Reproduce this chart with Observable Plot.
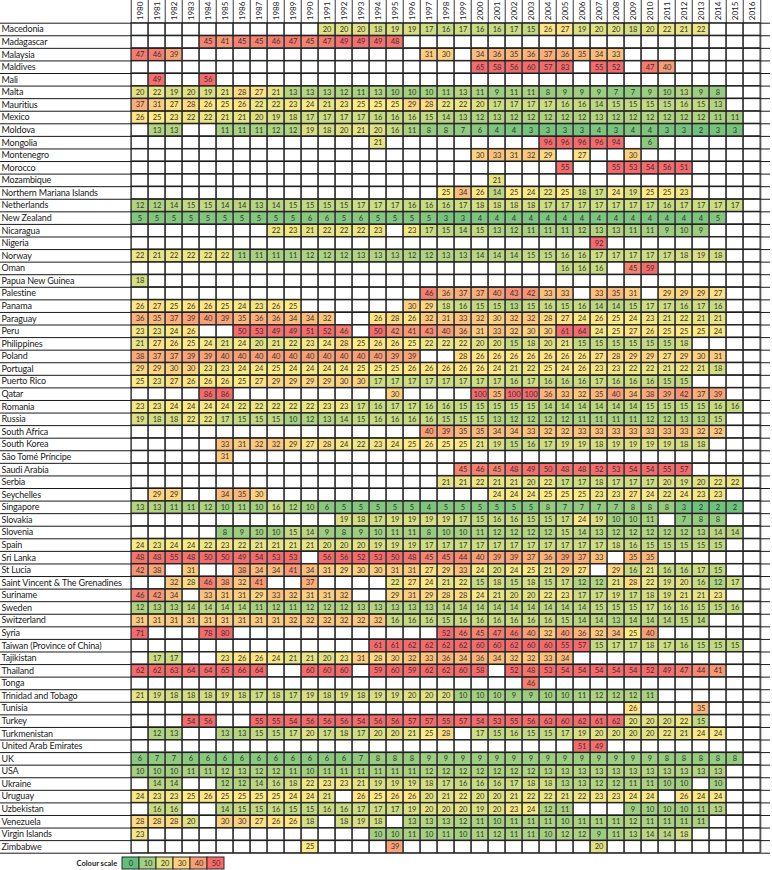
<!DOCTYPE html>
<html><head><meta charset="utf-8">
<script src="https://cdn.jsdelivr.net/npm/d3@7"></script>
<script src="https://cdn.jsdelivr.net/npm/@observablehq/plot@0.6"></script>
<style>
body{margin:0;background:#fff;}
#chart svg{display:block;}
</style>
</head><body><div id="chart"></div>
<script>
const _ = null;
const years = ["1980","1981","1982","1983","1984","1985","1986","1987","1988","1989",
"1990","1991","1992","1993","1994","1995","1996","1997","1998","1999",
"2000","2001","2002","2003","2004","2005","2006","2007","2008","2009",
"2010","2011","2012","2013","2014","2015","2016"];
const countries = ["Macedonia","Madagascar","Malaysia","Maldives","Mali","Malta","Mauritius","Mexico","Moldova","Mongolia",
"Montenegro","Morocco","Mozambique","Northern Mariana Islands","Netherlands","New Zealand","Nicaragua","Nigeria","Norway","Oman",
"Papua New Guinea","Palestine","Panama","Paraguay","Peru","Philippines","Poland","Portugal","Puerto Rico","Qatar",
"Romania","Russia","South Africa","South Korea","São Tomé Príncipe","Saudi Arabia","Serbia","Seychelles","Singapore","Slovakia",
"Slovenia","Spain","Sri Lanka","St Lucia","Saint Vincent & The Grenadines","Suriname","Sweden","Switzerland","Syria","Taiwan (Province of China)",
"Tajikistan","Thailand","Tonga","Trinidad and Tobago","Tunisia","Turkey","Turkmenistan","United Arab Emirates","UK","USA",
"Ukraine","Uruguay","Uzbekistan","Venezuela","Virgin Islands","Zimbabwe"];
// values per country, 1980..2016 (null = no data)
const values = [
/* Macedonia */ [_,_,_,_,_,_,_,_,_,_, _,20,20,20,18,19,19,17,16,17, 16,16,17,15,26,27,19,20,20,18, 20,22,21,22,_,_,_],
/* Madagascar */ [_,_,_,_,45,41,45,45,46,47, 45,47,49,49,49,48,_,_,_,_, _,_,_,_,_,_,_,_,_,_, _,_,_,_,_,_,_],
/* Malaysia */ [47,46,39,_,_,_,_,_,_,_, _,_,_,_,_,_,_,31,30,_, 34,36,35,36,37,36,35,34,33,_, _,_,_,_,_,_,_],
/* Maldives */ [_,_,_,_,_,_,_,_,_,_, _,_,_,_,_,_,_,_,_,_, 65,58,56,60,57,83,_,55,52,_, 47,40,_,_,_,_,_],
/* Mali */ [_,49,_,_,56,_,_,_,_,_, _,_,_,_,_,_,_,_,_,_, _,_,_,_,_,_,_,_,_,_, _,_,_,_,_,_,_],
/* Malta */ [20,22,19,20,19,21,28,27,21,13, 13,13,12,11,13,10,10,10,11,13, 11,9,11,11,8,9,9,9,7,7, 9,10,13,9,8,_,_],
/* Mauritius */ [37,31,27,28,26,25,26,22,22,23, 24,21,23,25,25,25,29,28,22,22, 20,17,17,17,17,16,16,14,15,15, 15,15,16,15,13,_,_],
/* Mexico */ [26,25,23,22,22,21,21,20,19,18, 17,17,17,17,16,16,16,15,14,13, 12,13,12,12,12,12,12,13,12,12, 12,12,12,12,11,11,_],
/* Moldova */ [_,13,13,_,_,11,11,11,12,12, 19,18,20,21,20,16,11,8,8,7, 6,4,4,3,3,3,3,4,3,4, 4,3,3,2,3,3,_],
/* Mongolia */ [_,_,_,_,_,_,_,_,_,_, _,_,_,_,21,_,_,_,_,_, _,_,_,_,96,96,96,96,94,_, 6,_,_,_,_,_,_],
/* Montenegro */ [_,_,_,_,_,_,_,_,_,_, _,_,_,_,_,_,_,_,_,_, 30,33,31,32,29,_,27,_,_,30, _,_,_,_,_,_,_],
/* Morocco */ [_,_,_,_,_,_,_,_,_,_, _,_,_,_,_,_,_,_,_,_, _,_,_,_,_,55,_,_,55,53, 54,56,51,_,_,_,_],
/* Mozambique */ [_,_,_,_,_,_,_,_,_,_, _,_,_,_,_,_,_,_,_,_, _,21,_,_,_,_,_,_,_,_, _,_,_,_,_,_,_],
/* N Mariana */ [_,_,_,_,_,_,_,_,_,_, _,_,_,_,_,_,_,_,25,34, 26,14,25,24,22,25,18,17,24,19, 25,25,23,_,_,_,_],
/* Netherlands */ [12,12,14,15,15,14,14,13,14,15, 15,15,15,17,17,17,16,16,16,17, 18,18,18,18,17,17,17,17,17,17, 17,16,17,17,17,17,_],
/* New Zealand */ [5,5,5,5,5,5,5,5,5,5, 6,6,5,6,5,5,5,5,3,3, 4,4,4,4,4,4,4,4,4,4, 4,4,4,4,5,_,_],
/* Nicaragua */ [_,_,_,_,_,_,_,_,22,23, 21,22,22,22,23,_,23,17,15,14, 15,13,12,11,11,11,12,13,13,11, 11,9,10,9,_,_,_],
/* Nigeria */ [_,_,_,_,_,_,_,_,_,_, _,_,_,_,_,_,_,_,_,_, _,_,_,_,_,_,_,92,_,_, _,_,_,_,_,_,_],
/* Norway */ [22,21,22,22,22,22,11,11,11,11, 12,12,12,13,13,13,12,12,13,13, 14,14,14,15,15,16,16,17,17,17, 17,17,18,19,18,_,_],
/* Oman */ [_,_,_,_,_,_,_,_,_,_, _,_,_,_,_,_,_,_,_,_, _,_,_,_,_,16,16,16,_,45, 59,_,_,_,_,_,_],
/* PNG */ [18,_,_,_,_,_,_,_,_,_, _,_,_,_,_,_,_,_,_,_, _,_,_,_,_,_,_,_,_,_, _,_,_,_,_,_,_],
/* Palestine */ [_,_,_,_,_,_,_,_,_,_, _,_,_,_,_,_,_,46,36,37, 37,40,43,42,33,33,_,33,35,31, _,29,29,29,27,_,_],
/* Panama */ [26,27,25,26,26,25,24,23,26,25, _,_,_,_,_,_,30,29,18,16, 15,15,13,15,16,15,16,14,14,15, 17,17,16,17,16,_,_],
/* Paraguay */ [36,35,37,39,40,39,35,36,36,34, 34,32,_,_,26,28,26,32,31,33, 32,30,32,32,28,27,24,26,25,24, 23,21,22,21,21,_,_],
/* Peru */ [23,23,24,26,_,_,50,53,49,49, 51,52,46,_,50,42,41,43,40,36, 31,33,32,30,30,61,64,24,25,27, 26,25,25,25,24,_,_],
/* Philippines */ [21,27,26,25,24,21,24,20,21,22, 23,24,28,25,26,26,25,22,22,22, 20,20,15,18,20,21,15,15,15,15, 15,15,18,_,_,_,_],
/* Poland */ [38,37,37,39,39,40,40,40,40,40, 40,40,40,40,40,39,39,_,_,28, 26,26,26,26,26,26,26,27,28,29, 29,27,29,30,31,_,_],
/* Portugal */ [29,29,30,30,23,23,24,24,25,24, 24,24,24,25,25,25,26,26,26,26, 26,24,21,22,25,24,26,23,23,22, 22,21,22,21,18,_,_],
/* Puerto Rico */ [25,23,27,26,26,26,25,27,29,29, 29,29,30,30,17,17,17,17,17,17, 17,17,16,17,16,16,16,17,16,16, 16,15,15,_,_,_,_],
/* Qatar */ [_,_,_,_,86,86,_,_,_,_, _,_,_,_,_,30,_,_,_,_, 100,35,100,100,36,33,32,35,40,34, 38,39,42,37,39,_,_],
/* Romania */ [23,23,24,24,24,24,22,22,22,22, 22,23,23,17,16,17,17,16,16,15, 15,15,15,15,14,14,14,14,14,14, 15,15,15,15,16,16,_],
/* Russia */ [19,18,18,22,22,17,15,15,15,10, 12,13,14,15,16,16,16,16,15,15, 15,13,12,12,12,12,11,11,11,11, 12,12,13,13,15,_,_],
/* South Africa */ [_,_,_,_,_,_,_,_,_,_, _,_,_,_,_,_,_,40,39,35, 35,34,34,33,32,32,33,33,33,33, 33,33,33,32,32,_,_],
/* South Korea */ [_,_,_,_,_,33,31,32,32,29, 27,28,24,22,23,24,25,26,25,25, 21,19,15,16,17,19,19,18,19,19, 19,19,18,18,_,_,_],
/* Sao Tome */ [_,_,_,_,_,31,_,_,_,_, _,_,_,_,_,_,_,_,_,_, _,_,_,_,_,_,_,_,_,_, _,_,_,_,_,_,_],
/* Saudi Arabia */ [_,_,_,_,_,_,_,_,_,_, _,_,_,_,_,_,_,_,_,45, 46,45,48,49,50,48,48,52,53,54, 54,55,57,_,_,_,_],
/* Serbia */ [_,_,_,_,_,_,_,_,_,_, _,_,_,_,_,_,_,_,21,21, 22,21,21,20,22,17,17,18,17,17, 17,20,19,20,22,22,_],
/* Seychelles */ [_,29,29,_,_,34,35,30,_,_, _,_,_,_,_,_,_,_,_,_, _,24,24,24,25,25,25,23,23,27, 24,22,24,23,23,_,_],
/* Singapore */ [13,13,11,11,12,10,11,10,16,12, 10,6,5,5,5,5,5,4,5,5, 5,5,5,5,8,7,7,7,7,8, 8,8,3,2,2,2,_],
/* Slovakia */ [_,_,_,_,_,_,_,_,_,_, _,_,19,18,17,19,19,19,19,17, 15,16,16,15,15,17,24,19,10,10, 11,_,7,8,8,_,_],
/* Slovenia */ [_,_,_,_,_,8,9,10,10,15, 14,9,8,9,10,11,11,8,10,10, 11,12,12,12,12,15,14,13,12,12, 12,12,12,13,14,14,_],
/* Spain */ [24,23,24,24,22,23,22,21,21,21, 21,20,20,20,19,19,19,17,17,17, 17,17,17,17,17,17,17,17,18,16, 15,15,15,15,15,_,_],
/* Sri Lanka */ [48,48,55,48,50,50,49,54,53,53, _,56,56,52,53,50,48,45,45,44, 40,39,39,37,36,39,37,33,_,35, 35,_,_,_,_,_,_],
/* St Lucia */ [42,38,_,31,_,_,38,34,34,41, 34,31,29,30,30,31,31,27,29,33, 24,20,24,25,21,29,27,_,29,16, 21,16,16,17,15,_,_],
/* St Vincent */ [_,_,32,28,46,38,32,41,_,_, 37,_,_,_,_,22,27,24,21,22, 15,18,15,18,15,17,12,12,21,28, 22,19,20,16,12,17,_],
/* Suriname */ [46,42,34,_,33,31,31,29,33,32, 31,31,32,_,_,29,31,29,28,28, 24,21,20,20,22,23,17,17,19,17, 18,19,21,21,23,_,_],
/* Sweden */ [12,13,13,14,14,14,14,11,12,11, 12,12,12,13,13,13,13,13,14,14, 14,14,14,14,14,14,14,15,15,15, 17,16,16,15,15,16,_],
/* Switzerland */ [31,31,31,31,31,31,31,31,31,32, 32,32,32,32,32,16,16,16,15,16, 16,16,16,16,16,15,14,14,13,14, 14,14,15,14,_,_,_],
/* Syria */ [71,_,_,_,78,80,_,_,_,_, _,_,_,_,_,_,_,_,52,46, 45,47,46,40,32,40,36,32,34,25, 40,_,_,_,_,_,_],
/* Taiwan */ [_,_,_,_,_,_,_,_,_,_, _,_,_,_,61,61,62,62,62,62, 60,60,62,60,60,55,57,15,17,17, 18,17,16,15,15,15,_],
/* Tajikistan */ [_,17,17,_,_,23,26,26,24,21, 21,20,23,31,28,30,32,33,36,34, 36,34,32,32,33,34,_,_,_,_, _,_,_,_,_,_,_],
/* Thailand */ [62,62,63,64,64,65,66,64,_,_, 60,60,60,_,59,60,59,62,62,60, 58,_,52,48,53,54,54,54,54,54, 52,49,47,44,41,_,_],
/* Tonga */ [_,_,_,_,_,_,_,_,_,_, _,_,_,_,_,_,_,_,_,_, _,_,_,46,_,_,_,_,_,_, _,_,_,_,_,_,_],
/* Trinidad */ [21,19,18,18,18,19,18,17,18,17, 19,18,19,18,19,19,20,20,20,10, 10,10,9,9,10,10,11,12,12,12, 11,_,_,_,_,_,_],
/* Tunisia */ [_,_,_,_,_,_,_,_,_,_, _,_,_,_,_,_,_,_,_,_, _,_,_,_,_,_,_,_,_,26, _,_,_,35,_,_,_],
/* Turkey */ [_,_,_,54,56,_,_,55,55,54, 56,56,56,54,56,56,57,57,55,57, 54,53,55,56,63,60,62,61,62,20, 20,20,22,15,_,_,_],
/* Turkmenistan */ [_,12,13,_,_,13,13,15,15,17, 20,17,18,17,20,20,21,25,28,_, 17,15,16,15,15,17,19,20,20,20, 20,22,21,24,24,_,_],
/* UAE */ [_,_,_,_,_,_,_,_,_,_, _,_,_,_,_,_,_,_,_,_, _,_,_,_,_,_,51,49,_,_, _,_,_,_,_,_,_],
/* UK */ [6,7,7,6,6,6,6,6,6,6, 6,6,6,7,8,8,8,9,9,9, 9,9,9,9,9,9,9,9,9,9, 9,8,8,8,8,8,_],
/* USA */ [10,10,10,11,11,12,13,12,12,11, 10,11,11,11,11,11,11,12,12,12, 12,12,12,12,13,13,13,13,13,13, 13,13,13,13,13,_,_],
/* Ukraine */ [_,14,14,_,_,12,12,14,16,18, 22,23,23,21,19,19,19,18,17,16, 16,16,17,18,18,13,13,12,12,11, 11,10,10,_,10,_,_],
/* Uruguay */ [24,23,23,25,26,25,25,25,25,24, 24,21,_,26,25,26,26,20,21,22, 20,20,21,22,22,21,22,23,23,24, 24,_,26,24,24,_,_],
/* Uzbekistan */ [_,16,16,_,_,14,15,15,16,15, 15,16,16,17,17,17,19,20,20,20, 19,20,23,24,12,11,_,_,_,9, 10,10,10,11,13,_,_],
/* Venezuela */ [28,28,28,20,_,30,30,27,26,26, 18,_,18,19,18,_,13,13,13,12, 11,10,11,11,11,10,11,11,11,12, 11,11,11,11,_,_,_],
/* Virgin Isl */ [23,_,_,_,_,_,_,_,_,_, _,_,_,_,10,10,11,10,11,10, 11,12,11,11,10,12,12,9,11,13, 14,14,18,_,_,_,_],
/* Zimbabwe */ [_,_,_,_,_,_,_,_,_,_, 25,_,_,_,_,39,_,_,_,_, _,_,_,_,_,_,_,20,_,_, _,_,_,_,_,_,_]
];
const legendValues = [0, 10, 20, 30, 40, 50];

const bad = values.map((r, i) => r.length !== years.length ? countries[i] + ":" + r.length : null).filter(d => d);
if (bad.length) document.body.insertAdjacentHTML("beforeend", "<pre>BAD " + bad.join(", ") + "</pre>");

const table = [];
countries.forEach((c, i) => values[i].forEach((v, j) => { if (v != null) table.push({country: c, year: years[j], value: v}); }));
const grid = countries.flatMap(c => years.map(y => ({country: c, year: y})));

const W = 772, H = 855;
const mL = 120.7, mR = 2, mT = 22.7, mB = 2.3;
const bwX = (W - mL - mR) / years.length;
const bwY = (H - mT - mB) / countries.length;
const colour = {type: "linear", domain: [0, 25, 50], range: ["#63BE7B", "#FFEB84", "#F8696B"], clamp: true};
const FONT = "Lato, 'Open Sans', sans-serif";

const main = Plot.plot({
  width: W, height: H,
  marginLeft: mL, marginRight: mR, marginTop: mT, marginBottom: mB,
  style: {fontFamily: FONT, fontSize: "8px", color: "#222", background: "#fff"},
  x: {type: "band", domain: years, padding: 0, axis: "top", tickSize: 0, tickPadding: 3, tickRotate: -90, label: null},
  y: {type: "band", domain: countries, padding: 0, axis: null},
  color: colour,
  marks: [
    Plot.cell(table, {x: "year", y: "country", fill: "value", inset: 0.5}),
    Plot.cell(grid, {x: "year", y: "country", fill: "none", stroke: "#3a3a3a", strokeWidth: 1}),
    Plot.ruleX(years, {x: d => d, dx: -bwX / 2, insetTop: -mT, stroke: "#3a3a3a"}),
    Plot.ruleX(years.slice(-1), {x: d => d, dx: bwX / 2, insetTop: -mT, stroke: "#3a3a3a"}),
    Plot.ruleY(countries, {y: d => d, dy: bwY / 2, insetLeft: -mL, stroke: "#1a1a1a"}),
    Plot.ruleY(countries.slice(0, 1), {y: d => d, dy: -bwY / 2, insetLeft: -mL, stroke: "#1a1a1a"}),
    Plot.text(table, {x: "year", y: "country", text: "value", fontSize: 7.5, fill: "#333"}),
    Plot.text(countries, {y: d => d, text: d => d, frameAnchor: "left", textAnchor: "start", dx: -mL + 1, fontSize: 9, fill: "#1a1a1a"})
  ]
});
d3.select(main).selectAll('g[aria-label="text"]').filter((d, i) => i === 1).attr("letter-spacing", "-0.15px");

const legend = Plot.plot({
  width: W, height: 15,
  marginLeft: mL, marginRight: W - mL - bwX * legendValues.length, marginTop: 2, marginBottom: 1,
  style: {fontFamily: FONT, fontSize: "8px", color: "#222", background: "#fff", overflow: "visible"},
  x: {type: "band", domain: legendValues, padding: 0, axis: null},
  color: colour,
  marks: [
    Plot.cell(legendValues, {x: d => d, fill: d => d, stroke: "#2a2a2a"}),
    Plot.text(legendValues, {x: d => d, text: d => String(d), fontSize: 7.5, fill: "#333"}),
    Plot.text(["Colour scale"], {text: d => d, frameAnchor: "left", textAnchor: "end", dx: -4, fontSize: 7.5, fontWeight: 700, fill: "#222"})
  ]
});

const el = document.getElementById("chart");
el.appendChild(main);
el.appendChild(legend);
</script>
</body></html>
